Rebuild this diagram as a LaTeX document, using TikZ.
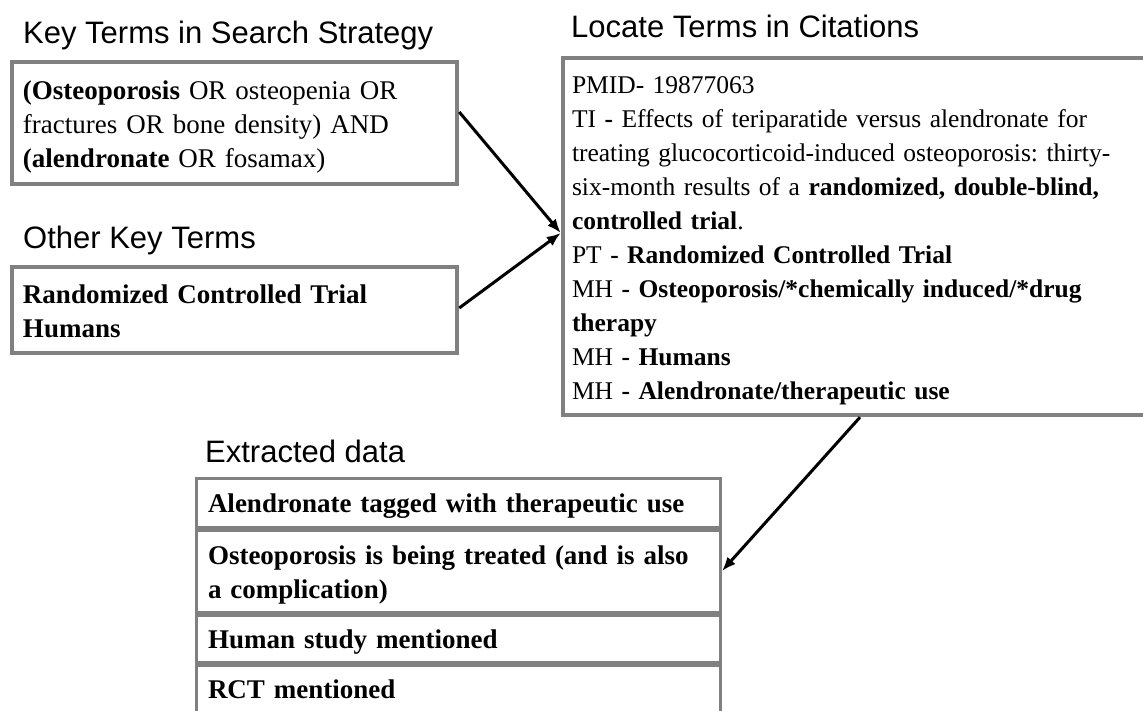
\documentclass[tikz,border=0pt]{standalone}
\usepackage{fontspec}
\setmainfont{Liberation Serif}
\setsansfont{Liberation Sans}
\usepackage{tikz}
\usetikzlibrary{positioning,arrows.meta}
\definecolor{framegray}{RGB}{128,128,128}
\newcommand{\linestrut}{\rule[-7pt]{0pt}{34pt}}
\newcommand{\tailstrut}{\rule[-40pt]{0pt}{0pt}}
\frenchspacing
\tikzset{
	heading/.style={
		anchor=base west,
		inner sep=0pt,
		font=\sffamily\fontsize{31}{37}\selectfont
	},
	termbox/.style={
		rectangle,
		draw=framegray,
		line width=4.5pt,
		align=left,
		inner ysep=2pt,
		font=\fontsize{27}{34}\selectfont,
		execute at begin node=\linestrut,
		execute at end node=\linestrut
	},
	datarow/.style={
		termbox,
		line width=3pt,
		text width=501pt,
		inner xsep=11.5pt,
		font=\fontsize{27}{34}\selectfont\bfseries
	},
	feedarrow/.style={
		line width=3pt,
		-{Latex[length=14pt,width=11pt]}
	}
}

\begin{document}
\begin{tikzpicture}[x=1pt,y=-1pt]
	\useasboundingbox (0,0) rectangle (1143,710);
	\clip (0,0) rectangle (1143,710);
	% headings
	\node[heading] (h-search) at (23,43) {Key Terms in Search Strategy};
	\node[heading] (h-other) at (23,248) {Other Key Terms};
	\node[heading] (h-citation) at (571,37) {Locate Terms in Citations};
	\node[heading] (h-data) at (205,462) {Extracted data};
	% term boxes
	\node[termbox,text width=423pt,inner xsep=11pt,minimum height=122pt] (search) at (234.5,123)
		{\textbf{(Osteoporosis} OR osteopenia OR\\fractures OR bone density) AND\\\textbf{(alendronate} OR fosamax)};
	\node[termbox,text width=423pt,inner xsep=11pt,minimum height=86pt] (other) at (234.5,310)
		{\textbf{Randomized Controlled Trial}\\\textbf{Humans}};
	\node[termbox,text width=602pt,inner xsep=9pt,minimum height=357pt,
		font=\fontsize{25.5}{34}\selectfont] (citation) at (873,236.5) % right side runs off the page
		{PMID- 19877063\\
		TI \textbf{-} Effects of teriparatide versus alendronate for\\
		treating glucocorticoid-induced osteoporosis: thirty-\\
		six-month results of a \textbf{randomized, double-blind,}\\
		\textbf{controlled trial}.\\
		PT \textbf{- Randomized Controlled Trial}\\
		MH \textbf{- Osteoporosis/*chemically induced/*drug}\\
		\textbf{therapy}\\
		MH \textbf{- Humans}\\
		MH \textbf{- Alendronate/therapeutic use}};
	% extracted data, one row under the other
	\node[datarow,minimum height=48.5pt,anchor=north] (row-alen) at (458.5,477)
		{Alendronate tagged with therapeutic use};
	\node[datarow,minimum height=82pt,below=0pt of row-alen] (row-osteo)
		{Osteoporosis is being treated (and is also\\a complication)};
	\node[datarow,minimum height=47pt,below=0pt of row-osteo] (row-human)
		{Human study mentioned};
	\node[datarow,inner ysep=6pt,below=0pt of row-human,execute at end node=\tailstrut] (row-rct) % runs on past the lower edge
		{RCT mentioned};
	% connectors
	\draw[feedarrow] ([yshift=11pt]search.east) -- ([yshift=3.5pt]citation.west);
	\draw[feedarrow] ([yshift=2pt]other.east) -- ([yshift=3.5pt]citation.west);
	\draw[feedarrow] ([xshift=-13pt]citation.south) -- (row-osteo.east);
\end{tikzpicture}
\end{document}
